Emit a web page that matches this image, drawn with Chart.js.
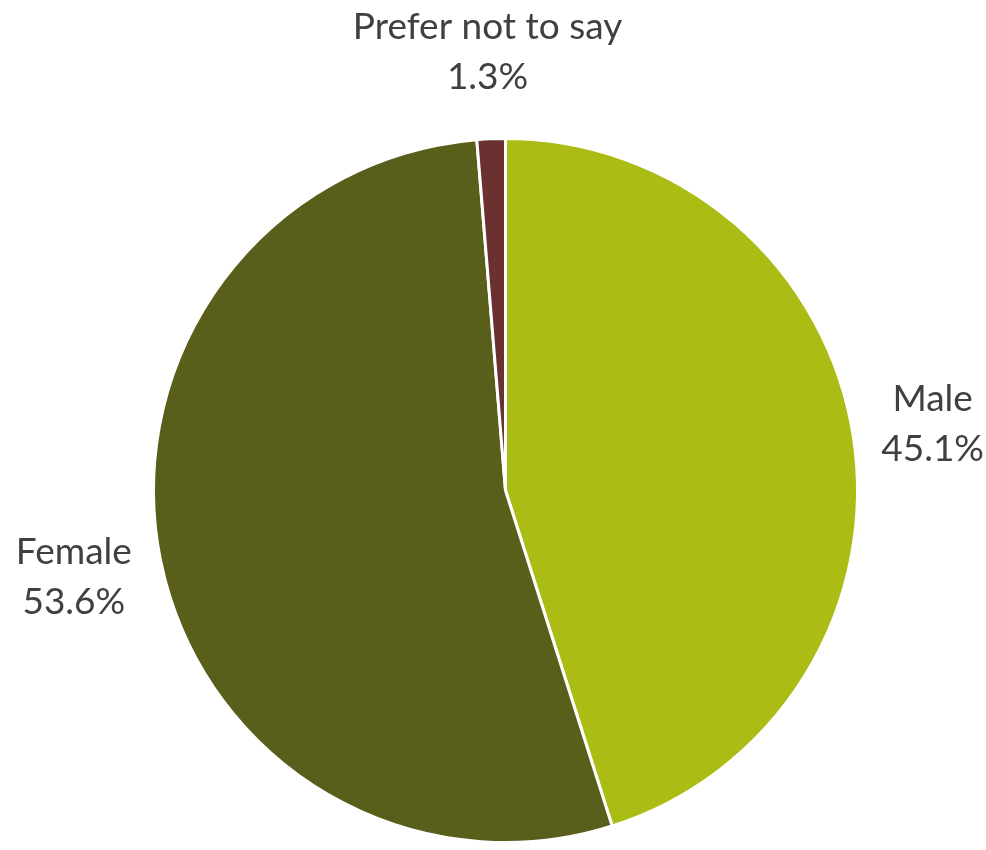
<!DOCTYPE html>
<html lang="en">
<head>
  <meta charset="UTF-8" />
  <title>Gender split</title>
  <script src="https://cdn.jsdelivr.net/npm/chart.js"></script>
  <style>
    html, body { margin: 0; padding: 0; background: #fff; }
    #wrap { width: 986px; height: 850px; position: relative; }
  </style>
</head>
<body>
  <div id="wrap"><canvas id="pieChart"></canvas></div>

  <script>
    // data
    const labels = ['Male', 'Female', 'Prefer not to say'];
    const shares = [45.1, 53.6, 1.3];
    const colours = ['#ABBC15', '#5A5E1B', '#6B3131'];

    // draws "Name\nxx.x%" outside each slice, along its middle angle
    const outsideLabels = {
      id: 'outsideLabels',
      afterDatasetsDraw(chart) {
        const ctx = chart.ctx;
        const meta = chart.getDatasetMeta(0);
        ctx.save();
        ctx.font = '37px Lato';
        ctx.fillStyle = '#404040';
        ctx.textAlign = 'center';
        ctx.textBaseline = 'middle';
        meta.data.forEach((arc, i) => {
          const mid = (arc.startAngle + arc.endAngle) / 2;
          const dist = arc.outerRadius + 88;
          const top = labels[i];
          const bottom = shares[i].toFixed(1) + '%';
          const half = Math.max(ctx.measureText(top).width, ctx.measureText(bottom).width) / 2;
          let x = arc.x + Math.cos(mid) * dist;
          const y = arc.y + Math.sin(mid) * dist;
          // keep the label inside the canvas, like Excel does
          x = Math.min(Math.max(x, half + 4), chart.width - half - 2);
          ctx.fillText(top, x, y - 24);
          ctx.fillText(bottom, x, y + 26);
        });
        ctx.restore();
      }
    };

    new Chart(document.getElementById('pieChart'), {
      type: 'pie',
      data: {
        labels: labels,
        datasets: [{
          data: shares,
          backgroundColor: colours,
          borderColor: '#ffffff',
          borderWidth: 3
        }]
      },
      options: {
        responsive: true,
        maintainAspectRatio: false,
        animation: false,
        layout: { padding: { top: 137, bottom: 6, left: 25, right: 0 } },
        plugins: {
          legend: { display: false },
          tooltip: { enabled: false }
        }
      },
      plugins: [outsideLabels]
    });
  </script>
</body>
</html>
